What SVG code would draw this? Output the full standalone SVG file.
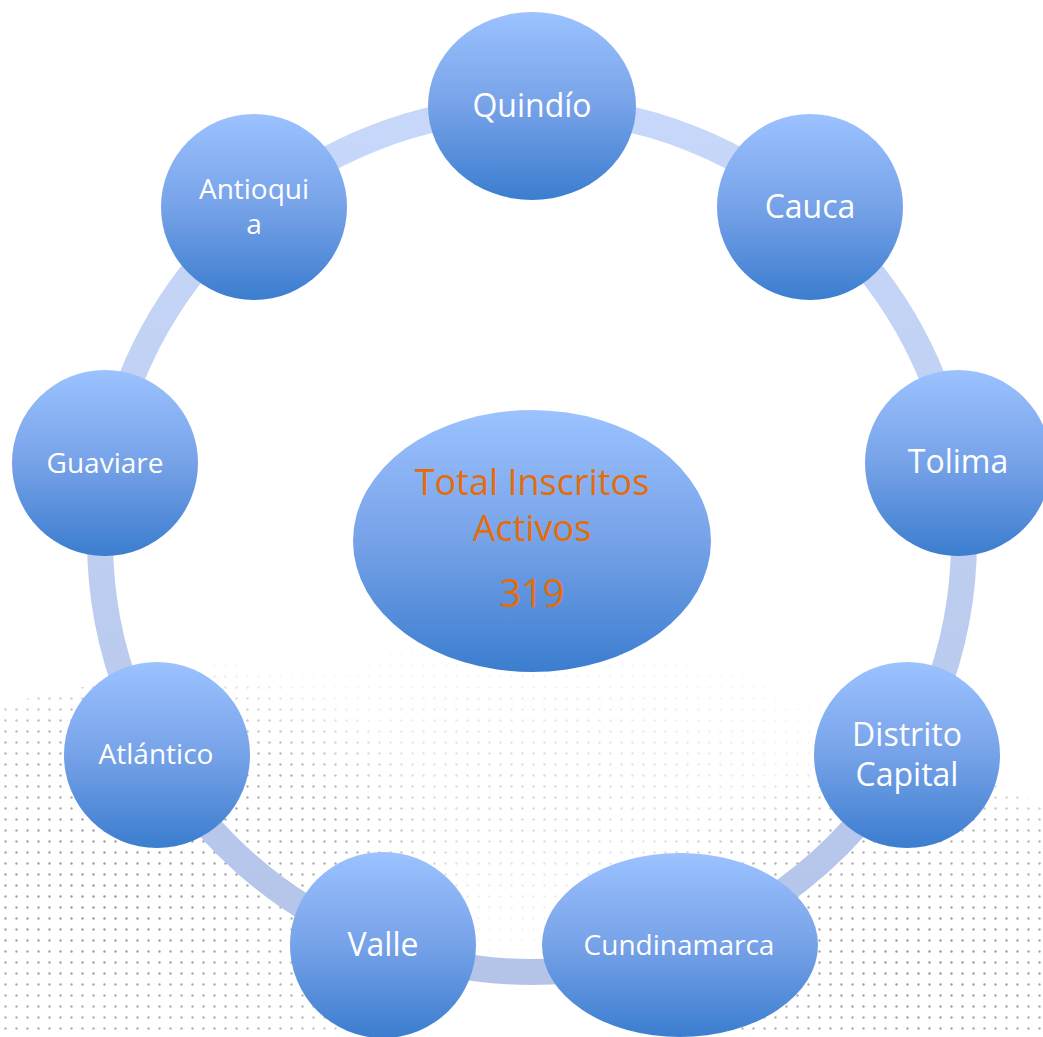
<svg xmlns="http://www.w3.org/2000/svg" width="1043" height="1037" viewBox="0 0 1043 1037">
<defs>
<linearGradient id="nodeGrad" x1="0" y1="0" x2="0" y2="1">
<stop offset="0" stop-color="#9cc2ff"/>
<stop offset="0.5" stop-color="#76a2e8"/>
<stop offset="1" stop-color="#3b7dcf"/>
</linearGradient>
<linearGradient id="ringGrad" gradientUnits="userSpaceOnUse" x1="0" y1="100" x2="0" y2="980">
<stop offset="0" stop-color="#c8d8fa"/>
<stop offset="1" stop-color="#b4c4e8"/>
</linearGradient>
<pattern id="dots" width="11" height="11" patternUnits="userSpaceOnUse">
<circle cx="5.5" cy="5.5" r="1.2" fill="#8a8a8a"/>
</pattern>
<radialGradient id="fadeA">
<stop offset="0" stop-color="#fff" stop-opacity="0.9"/>
<stop offset="0.7" stop-color="#fff" stop-opacity="0.6"/>
<stop offset="1" stop-color="#fff" stop-opacity="0"/>
</radialGradient>
<radialGradient id="fadeC">
<stop offset="0" stop-color="#fff" stop-opacity="0.35"/>
<stop offset="1" stop-color="#fff" stop-opacity="0"/>
</radialGradient>
<clipPath id="dotClip">
<path d="M0,705 C200,655 500,625 700,665 C850,695 950,765 1043,805 L1043,1037 L0,1037 Z"/>
</clipPath>
<mask id="dotMask">
<ellipse cx="110" cy="900" rx="360" ry="260" fill="url(#fadeA)"/>
<ellipse cx="930" cy="960" rx="340" ry="210" fill="url(#fadeA)"/>
<ellipse cx="530" cy="800" rx="420" ry="180" fill="url(#fadeC)"/>
</mask>
<style>
.node { fill: url(#nodeGrad); }
.lbl { fill: #ffffff; font-family: "Open Sans", "Noto Sans", sans-serif; text-anchor: middle; }
.big { font-size: 32px; }
.small { font-size: 28px; }
.center { fill: #e46c0a; font-family: "Open Sans", "Noto Sans", sans-serif; text-anchor: middle; font-size: 36px; }
</style>
</defs>
<rect width="1043" height="1037" fill="#ffffff"/>
<g id="background-dots" clip-path="url(#dotClip)">
<rect x="0" y="600" width="1043" height="437" fill="url(#dots)" mask="url(#dotMask)"/>
</g>
<g id="connectors">
<circle cx="532" cy="540" r="432" fill="none" stroke="url(#ringGrad)" stroke-width="26"/>
</g>
<g id="node-center">
<ellipse class="node" cx="532" cy="541" rx="179" ry="131"/>
<text class="center" x="532" y="495">Total Inscritos</text>
<text class="center" x="532" y="541">Activos</text>
<text class="center" x="532" y="607" style="font-size:38px">319</text>
</g>
<g id="node-quindio">
<ellipse class="node" cx="532" cy="106" rx="104" ry="94"/>
<text class="lbl big" x="532" y="117">Quindío</text>
</g>
<g id="node-cauca">
<circle class="node" cx="810" cy="207" r="93"/>
<text class="lbl big" x="810" y="218">Cauca</text>
</g>
<g id="node-tolima">
<circle class="node" cx="958" cy="463" r="93"/>
<text class="lbl big" x="958" y="473">Tolima</text>
</g>
<g id="node-distrito-capital">
<circle class="node" cx="907" cy="755" r="93"/>
<text class="lbl big" x="907" y="746">Distrito</text>
<text class="lbl big" x="907" y="786">Capital</text>
</g>
<g id="node-cundinamarca">
<ellipse class="node" cx="680" cy="945" rx="138" ry="92"/>
<text class="lbl small" x="679" y="955">Cundinamarca</text>
</g>
<g id="node-valle">
<circle class="node" cx="383" cy="945" r="93"/>
<text class="lbl big" x="383" y="956">Valle</text>
</g>
<g id="node-atlantico">
<circle class="node" cx="157" cy="755" r="93"/>
<text class="lbl small" x="156" y="764">Atlántico</text>
</g>
<g id="node-guaviare">
<circle class="node" cx="105" cy="463" r="93"/>
<text class="lbl small" x="105" y="473">Guaviare</text>
</g>
<g id="node-antioquia">
<circle class="node" cx="254" cy="207" r="93"/>
<text class="lbl small" x="254" y="199">Antioqui</text>
<text class="lbl small" x="254" y="234">a</text>
</g>
</svg>
